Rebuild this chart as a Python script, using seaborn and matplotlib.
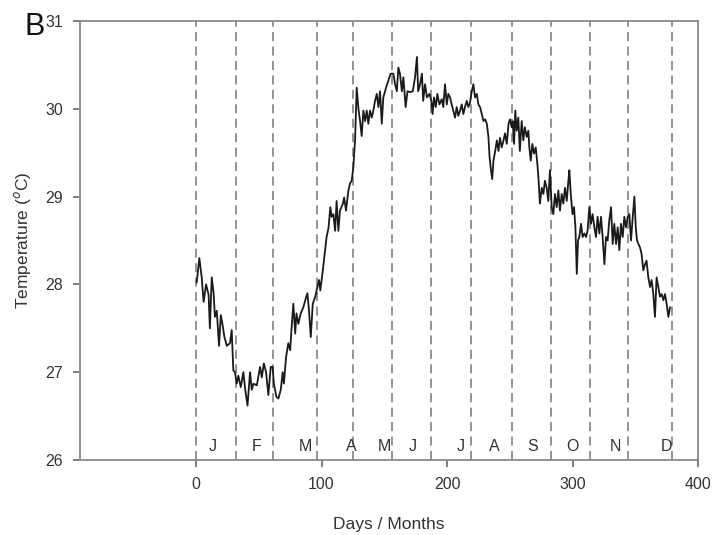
import numpy as np
import pandas as pd
import seaborn as sns
from matplotlib import pyplot as plt

# daily sea temperature (day of year, deg C)
days = [0.5, 2.6, 4.5, 6, 8, 10, 11, 12.5, 14, 15, 16.5, 18.3, 19.7, 21, 22.6, 24.5, 27, 28.4, 29.7,
        31, 32.4, 33.7, 35.6, 37.7, 39, 41, 43, 44.4, 45.7, 48.4, 51, 52.4, 54, 55.8, 57.6, 59.5,
        61, 62, 64, 65.6, 67.5, 69, 70, 71.7, 73.5, 75, 76, 77.5, 79, 80, 81.5, 83.4, 85.5, 87, 88.7,
        90, 91.4, 93, 95, 96, 98, 99, 101, 103, 104, 105.5, 107, 108, 109.4, 110.8, 112, 113.4,
        114.7, 117, 118, 119.5, 121.4, 122.7, 124,
        125.3, 126.7, 128, 129.4, 130.7, 132, 133.3, 134.7, 136, 137.3, 138.6, 140, 141.3, 142.6,
        144, 145.3, 146.6, 148, 149.2, 151.4, 153.2, 155,
        157.2, 158.6, 160, 161.2, 162.5, 164, 165.2, 167, 168.5, 170.5, 172.7, 174.5, 176, 177,
        178.5, 180, 181, 182.5, 184, 186,
        187.5, 188.5, 189.6, 191, 192.3, 193.9, 195.8, 197, 198.4, 199.8, 201, 202.4, 203.7, 205,
        206.4, 207.7, 209, 210.4, 211.7, 213, 214.3, 215.7, 217, 218.3,
        219.7, 221, 222.3, 223.7, 225, 226.3, 227.7, 229, 230.4, 231.7, 233, 233.9, 235, 236, 237,
        238.4, 239.7, 241, 242.2, 243.6, 245, 246.2, 247.6, 249, 250.2,
        251.5, 252.3, 253.4, 254.4, 255.5, 256.8, 258, 259.5, 260.8, 262, 263.5, 264.8, 265.6,
        266.7, 268, 269.3, 270.7, 272, 273, 274, 275.5, 276.8, 278, 279.4, 280.7, 282,
        283.4, 284.7, 286, 287.4, 288.7, 290, 291.4, 292.7, 294, 295.4, 296.7, 297.5, 298.6, 300,
        301.2, 302.3, 303.4, 304.4, 305.4, 306.8, 308, 309.4, 310.8, 312, 313.4,
        314.7, 316, 317.4, 318.7, 320, 321.4, 322.7, 324, 325.4, 326.7, 328, 329.3, 330.7, 332,
        333.3, 334.7, 336, 337.3, 338.6, 340, 341.3, 342.6, 344,
        345.3, 346.6, 348, 349.3, 350.4, 351.4, 352.5, 353.8, 355, 356.4, 357.8, 359, 360.4, 361.8,
        363, 364.4, 365.7, 367, 368.4, 369.7, 371, 372.4, 373.7, 375, 376.4, 377.7]
temps = [28.02, 28.3, 28.08, 27.8, 28.0, 27.88, 27.5, 28.08, 27.9, 27.63, 27.7, 27.3, 27.65, 27.55,
         27.4, 27.3, 27.33, 27.48, 27.02,
         27.0, 26.87, 26.96, 26.83, 27.0, 26.82, 26.62, 27.0, 26.8, 26.87, 26.85, 27.06, 26.94,
         27.1, 27.0, 26.74, 27.06,
         27.06, 26.87, 26.72, 26.7, 26.8, 27.0, 26.87, 27.17, 27.33, 27.25, 27.48, 27.78, 27.44,
         27.67, 27.55, 27.67, 27.74, 27.82, 27.9, 27.7, 27.4, 27.78, 27.86,
         27.93, 28.05, 27.93, 28.16, 28.42, 28.54, 28.64, 28.88, 28.77, 28.8, 28.61, 28.95, 28.61,
         28.84, 28.92, 28.99, 28.84, 29.07, 29.15, 29.18,
         29.33, 29.64, 30.24, 30.0, 29.86, 29.69, 29.98, 29.86, 29.98, 29.83, 29.98, 29.9, 29.98,
         30.09, 30.17, 30.02, 30.2, 29.83, 30.13, 30.24, 30.32, 30.4,
         30.4, 30.28, 30.2, 30.47, 30.4, 30.2, 30.36, 30.02, 30.2, 30.19, 30.2, 30.36, 30.59, 30.2,
         30.28, 30.4, 30.09, 30.28, 30.13, 30.17,
         30.09, 29.94, 30.13, 30.02, 30.17, 30.05, 30.11, 30.02, 30.28, 30.05, 30.17, 30.13, 30.05,
         29.98, 29.9, 30.02, 29.92, 29.98, 30.05, 29.94, 30.02, 30.09, 30.02, 30.07,
         30.2, 30.28, 30.13, 30.17, 30.05, 30.02, 29.94, 29.86, 29.88, 29.83, 29.68, 29.45, 29.3,
         29.2, 29.41, 29.52, 29.64, 29.52, 29.67, 29.56, 29.64, 29.72, 29.6, 29.83, 29.88,
         29.79, 29.86, 29.6, 29.98, 29.75, 29.9, 29.52, 29.86, 29.64, 29.79, 29.68, 29.75, 29.56,
         29.41, 29.6, 29.49, 29.56, 29.37, 29.18, 28.92, 29.1, 29.03, 29.18, 29.1, 28.95, 29.3,
         28.88, 28.8, 29.03, 28.88, 29.07, 28.84, 29.03, 28.92, 29.1, 28.95, 29.18, 29.3, 29.03,
         28.8, 28.88, 28.65, 28.12, 28.5, 28.54, 28.69, 28.54, 28.58, 28.54, 28.61, 28.88,
         28.69, 28.8, 28.65, 28.54, 28.77, 28.58, 28.77, 28.54, 28.23, 28.54, 28.5, 28.73, 28.88,
         28.46, 28.69, 28.46, 28.65, 28.39, 28.69, 28.54, 28.77, 28.65, 28.77,
         28.8, 28.5, 28.77, 29.0, 28.65, 28.5, 28.46, 28.42, 28.35, 28.16, 28.23, 28.27, 28.08,
         27.97, 28.05, 27.89, 27.63, 28.08, 27.97, 27.86, 27.89, 27.82, 27.89, 27.78, 27.63, 27.74]

# month boundaries and labels as drawn in the figure
month_edges = [0, 32, 61.4, 96.4, 125, 156, 187, 219, 252, 283, 314, 344.5, 379.5]
month_names = ['J', 'F', 'M', 'A', 'M', 'J', 'J', 'A', 'S', 'O', 'N', 'D']
month_label_x = [13.5, 48.6, 87, 123.5, 150, 173, 211, 238, 268, 300, 334, 375]

data = pd.DataFrame({'day': days, 'temp': temps})

sns.set_style('ticks')
plt.rcParams['font.family'] = ['Liberation Sans', 'DejaVu Sans']

fig = plt.figure(figsize=(7.12, 5.35), dpi=100)
ax = fig.add_axes([80 / 712, 75 / 535, 618 / 712, 439 / 535])

for x in month_edges:
    ax.axvline(x, color='#8a8a8a', lw=1.3, ls=(0, (5, 3)), zorder=1)

sns.lineplot(data=data, x='day', y='temp', color='#1a1a1a', lw=1.3, ax=ax,
             estimator=None, sort=False, zorder=3)

for x, name in zip(month_label_x, month_names):
    ax.text(x, 26.15, name, ha='center', va='center', fontsize=11.5, color='#333333')

ax.set_xlim(-92.5, 400)
ax.set_ylim(26, 31)
ax.set_xticks([0, 100, 200, 300, 400])
ax.set_yticks([26, 27, 28, 29, 30, 31])
ax.tick_params(direction='out', length=5, width=1.2, color='#666666', pad=7,
               labelsize=11.5, labelcolor='#333333', left=True, bottom=True)
for s in ax.spines.values():
    s.set_color('#888888')
    s.set_linewidth(1.3)

ax.set_xlabel('Days / Months', fontsize=12.5, color='#333333', labelpad=18)
ax.set_ylabel('Temperature ($^o$C)', fontsize=12.5, color='#333333', labelpad=9)

fig.text(0.035, 0.935, 'B', fontsize=22, color='#111111')

plt.savefig('out.png', dpi=100)
plt.close()
